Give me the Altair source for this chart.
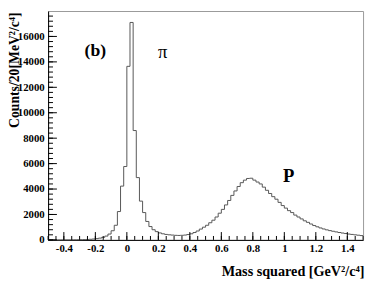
import altair as alt
import pandas as pd

# ---- data (bin width 0.02 GeV^2/c^4, first bin starts at -0.5) ----
bin_start = -0.5
bin_width = 0.02
counts = [
    # -0.50 .. -0.02
    0, 0, 0, 0, 1, 2, 3, 5, 8, 12,
    18, 25, 35, 50, 70, 100, 140, 200, 300, 460,
    720, 1150, 2230, 4230, 5770,
    # 0.00 .. 0.18
    13650, 17100, 8600, 4900, 3050, 2150, 1450, 1050, 800, 650,
    # 0.20 .. 0.38
    550, 480, 430, 400, 380, 360, 350, 360, 380, 420,
    # 0.40 .. 0.58
    480, 580, 700, 850, 1000, 1150, 1350, 1550, 1800, 2100,
    # 0.60 .. 0.78
    2400, 2750, 3100, 3500, 3850, 4200, 4500, 4700, 4830, 4850,
    # 0.80 .. 0.98
    4700, 4550, 4400, 4150, 3900, 3650, 3400, 3200, 2950, 2700,
    # 1.00 .. 1.18
    2500, 2300, 2150, 1950, 1800, 1650, 1500, 1380, 1250, 1130,
    # 1.20 .. 1.38
    1030, 940, 860, 790, 730, 680, 630, 580, 540, 500,
    # 1.40 .. 1.48
    460, 430, 400, 370, 340,
]

x_label_values = [-0.4, -0.2, 0, 0.2, 0.4, 0.6, 0.8, 1, 1.2, 1.4]
y_label_values = [0, 2000, 4000, 6000, 8000, 10000, 12000, 14000, 16000]

note_text = ["(b)", "\u03c0", "P"]
note_x = [-0.20, 0.227, 1.028]
note_y = [14850, 14770, 5000]
note_size = [18, 19, 19]
note_weight = ["bold", "normal", "bold"]

# ---- tables ----
edges = [round(bin_start + i * bin_width, 4) for i in range(len(counts) + 1)]
hist = pd.DataFrame({"x": edges, "y": counts + [counts[-1]]})

x_minor = [round(-0.5 + 0.05 * i, 4) for i in range(41)]
y_minor = [400 * i for i in range(45)]

W, H = 322, 234
xscale = alt.Scale(domain=[-0.5, 1.5], nice=False, zero=False)
yscale = alt.Scale(domain=[0, 18000], nice=False)

FONT = "Liberation Serif"

xaxis = alt.Axis(values=x_label_values, ticks=False, grid=False,
                 labelExpr="'' + datum.value", labelPadding=3,
                 labelOverlap=False, labelFlush=False,
                 title="Mass squared [GeV\u00b2/c\u2074]",
                 titleAnchor="end", titleAlign="right",
                 titleX=W + 1, titleY=36, titleBaseline="alphabetic")
yaxis = alt.Axis(values=y_label_values, ticks=False, grid=False,
                 format="d", labelPadding=4,
                 labelOverlap=False, labelFlush=False,
                 title="Counts/20[MeV\u00b2/c\u2074]",
                 titleAngle=-90, titleAlign="right",
                 titleBaseline="alphabetic", titleX=-30, titleY=1,
                 titleFontSize=14)

line = alt.Chart(hist).mark_line(
    interpolate="step-after", color="#555555", strokeWidth=1
).encode(
    x=alt.X("x:Q", scale=xscale, axis=xaxis),
    y=alt.Y("y:Q", scale=yscale, axis=yaxis),
)

def xticks(vals, length):
    return alt.Chart(pd.DataFrame({"x": vals})).mark_rule(
        color="black", strokeWidth=1
    ).encode(
        x=alt.X("x:Q", scale=xscale, axis=xaxis),
        y=alt.value(H), y2=alt.value(H - length),
    )

def yticks(vals, length):
    return alt.Chart(pd.DataFrame({"y": vals})).mark_rule(
        color="black", strokeWidth=1
    ).encode(
        y=alt.Y("y:Q", scale=yscale, axis=yaxis),
        x=alt.value(0), x2=alt.value(length),
    )

notes = pd.DataFrame({"x": note_x, "y": note_y, "t": note_text})
labels = [
    alt.Chart(notes.iloc[[i]]).mark_text(
        font=FONT, fontSize=note_size[i], fontWeight=note_weight[i],
        color="black", align="center", baseline="middle"
    ).encode(
        x=alt.X("x:Q", scale=xscale, axis=xaxis),
        y=alt.Y("y:Q", scale=yscale, axis=yaxis),
        text="t:N",
    ) for i in range(len(note_text))
]

chart = alt.layer(
    line,
    xticks(x_minor, 4), xticks(x_label_values, 8),
    yticks(y_minor, 5), yticks(y_label_values, 9),
    *labels,
).properties(
    width=W, height=H,
    autosize=alt.AutoSizeParams(type="none"),
    padding={"left": 41, "top": 0, "right": 3, "bottom": 42},
).configure_view(
    stroke="#999999", strokeWidth=1
).configure_axis(
    labelFont=FONT, labelFontSize=11, labelFontWeight="bold", labelColor="black",
    titleFont=FONT, titleFontSize=14.5, titleFontWeight="bold", titleColor="black",
    domainColor="black", domainWidth=1, labelOverlap=False,
)

chart.save("out.html", embed_options={"renderer": "svg", "actions": False})
